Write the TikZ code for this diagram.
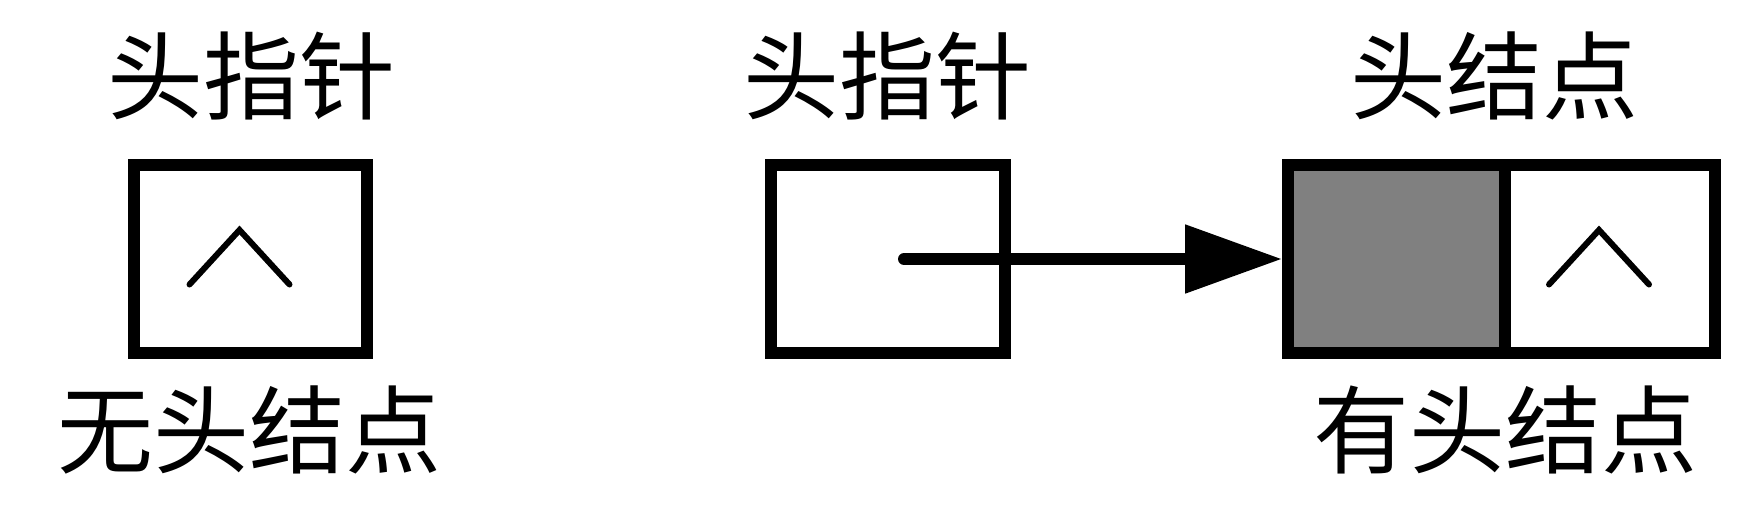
\documentclass[tikz,border=0pt]{standalone}
\usepackage{fontspec}
\newfontfamily\cjk{Noto Sans CJK SC}
\usetikzlibrary{positioning, arrows.meta}
\definecolor{datagray}{RGB}{128,128,128}
\tikzset{
    cell/.style={rectangle, draw=black, fill=white, line width=6pt, inner sep=0pt, minimum height=94.25pt},
    datacell/.style={cell, fill=datagray},
    lbl/.style={font=\cjk\fontsize{48}{56}\selectfont, inner sep=0pt},
    nullline/.style={line width=3pt, line cap=round},
    ptrarr/.style={-{Triangle[length=48.5pt, width=33pt]}, line width=6pt, line cap=round}
}
% null pointer mark inside a cell
\newcommand{\nullmark}[1]{\draw[nullline, shift={(#1.center)}] (-61,25.5) -- (-11,-29) -- (39,25.5);}

\begin{document}
\begin{tikzpicture}[x=0.5pt, y=-0.5pt]
    \useasboundingbox (0,0) rectangle (1756,531);
    % without head node
    \node[cell, minimum width=116.5pt] at (250.5,259) (nohead) {};
    \nullmark{nohead}
    \node[lbl] at (251,76) (ptrlbl1) {头指针};
    \node[lbl] at (249,430) (nolbl) {无头结点};
    % with head node
    \node[cell, minimum width=117pt] at (888,259) (headptr) {};
    \node[datacell, minimum width=108.5pt] at (1396.5,259) (hdata) {};
    \node[cell, minimum width=105pt] at (1610,259) (hnext) {};
    \nullmark{hnext}
    \node[lbl] at (887,76) (ptrlbl2) {头指针};
    \node[lbl] at (1494,76) (headlbl) {头结点};
    \node[lbl] at (1505,430) (haslbl) {有头结点};
    \draw[ptrarr] ([xshift=8pt]headptr.center) -- (hdata.west);
\end{tikzpicture}
\end{document}
